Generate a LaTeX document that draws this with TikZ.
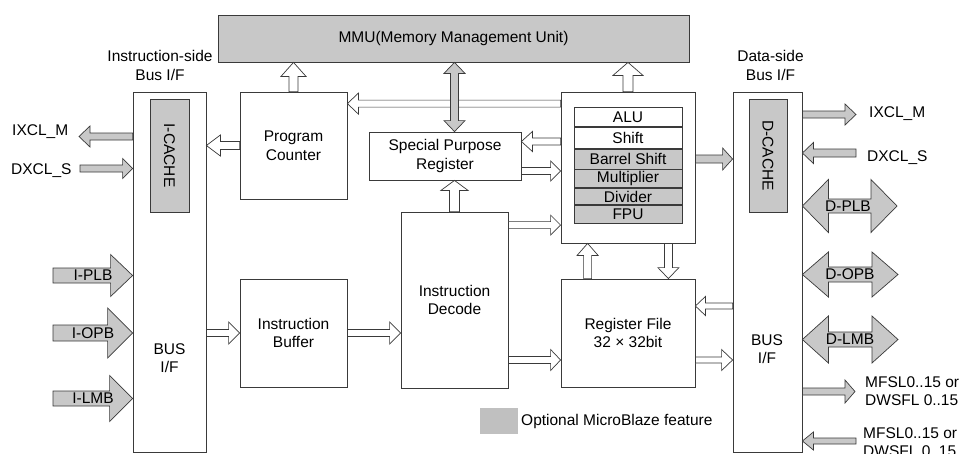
\documentclass[tikz,border=0pt]{standalone}
\usepackage{fontspec}
\setmainfont{Liberation Sans}
\usetikzlibrary{calc}

\definecolor{linec}{RGB}{58,58,58}
\definecolor{optfill}{RGB}{200,200,200}
\definecolor{legfill}{RGB}{192,192,192}

% Block arrow: style, from, to, shaft half width, head half width, head length
\newcommand\fatarrow[6]{%
  \path (#2) coordinate (fa-s) (#3) coordinate (fa-e);
  \path ($(fa-e)!#6!(fa-s)$) coordinate (fa-h);
  \draw[#1] ($(fa-s)!#4!90:(fa-e)$) -- ($(fa-h)!#4!-90:(fa-s)$)
    -- ($(fa-h)!#5!-90:(fa-s)$) -- (fa-e) -- ($(fa-h)!#5!90:(fa-s)$)
    -- ($(fa-h)!#4!90:(fa-s)$) -- ($(fa-s)!#4!-90:(fa-e)$) -- cycle;
}
% Double-headed block arrow, same arguments
\newcommand\fatdarrow[6]{%
  \path (#2) coordinate (fa-s) (#3) coordinate (fa-e);
  \path ($(fa-s)!#6!(fa-e)$) coordinate (fa-a) ($(fa-e)!#6!(fa-s)$) coordinate (fa-b);
  \draw[#1] (fa-s) -- ($(fa-a)!#5!90:(fa-e)$) -- ($(fa-a)!#4!90:(fa-e)$)
    -- ($(fa-b)!#4!-90:(fa-s)$) -- ($(fa-b)!#5!-90:(fa-s)$) -- (fa-e)
    -- ($(fa-b)!#5!90:(fa-s)$) -- ($(fa-b)!#4!90:(fa-s)$)
    -- ($(fa-a)!#4!-90:(fa-e)$) -- ($(fa-a)!#5!-90:(fa-e)$) -- cycle;
}

\begin{document}
\begin{tikzpicture}[x=1pt,y=-1pt,
  every node/.style={font=\fontsize{15.5}{18.5}\selectfont, text=black, inner sep=0pt},
  blk/.style={draw=linec, line width=0.8pt, fill=white, align=center},
  optblk/.style={blk, fill=optfill},
  row/.style={draw=linec, line width=0.8pt, minimum width=108, anchor=north},
  warrow/.style={draw=linec, line width=0.7pt, fill=white},
  garrow/.style={draw=linec, line width=0.7pt, fill=optfill},
  lbl/.style={align=center},
  sig/.style={anchor=west, align=left}]

\clip (0,0) rectangle (962,453);
\fill[white] (0,0) rectangle (962,453);

% ---- memory management unit
\node[optblk, minimum width=471, minimum height=47] (mmu) at (453.5,38.5) {MMU(Memory Management Unit)};

% ---- instruction-side bus interface
\node[lbl] (ititle) at (160,65.5) {Instruction-side\\Bus I/F};
\node[blk, minimum width=73, minimum height=360] (ibus) at (169.5,272) {};
\node[optblk, minimum width=39, minimum height=113] (icache) at (169.5,155.5) {};
\node[rotate=-90] (icachelbl) at (icache) {I-CACHE};
\node[lbl] (ibuslbl) at (169.5,358) {BUS\\I/F};

% ---- pipeline blocks
\node[blk, minimum width=107, minimum height=107] (pc) at (293.5,145.5) {Program\\Counter};
\node[blk, minimum width=107, minimum height=108] (ib) at (293.5,333) {Instruction\\Buffer};
\node[blk, minimum width=152, minimum height=48] (spr) at (445,156) {Special Purpose\\Register};
\node[blk, minimum width=107, minimum height=176] (id) at (454.5,300) {Instruction\\Decode};
\node[blk, minimum width=134, minimum height=151] (exu) at (628,167.5) {};
\node[blk, minimum width=134, minimum height=108] (rf) at (628,333) {Register File\\32 × 32bit};

% ---- execution unit stack
\node[row, fill=white, minimum height=19] (alu) at (628,107) {ALU};
\node[row, fill=white, minimum height=21] (shift) at (alu.south) {Shift};
\node[row, fill=optfill, minimum height=20] (barrel) at (shift.south) {Barrel Shift};
\node[row, fill=optfill, minimum height=18] (mult) at (barrel.south) {Multiplier};
\node[row, fill=optfill, minimum height=16] (div) at (mult.south) {Divider};
\node[row, fill=optfill, minimum height=18] (fpu) at (div.south) {FPU};

% ---- data-side bus interface
\node[lbl] (dtitle) at (770.5,65.5) {Data-side\\Bus I/F};
\node[blk, minimum width=69, minimum height=360] (dbus) at (767.5,272) {};
\node[optblk, minimum width=38, minimum height=113] (dcache) at (768,155.5) {};
\node[rotate=-90] (dcachelbl) at (dcache) {D-CACHE};
\node[lbl] (dbuslbl) at (767,349) {BUS\\I/F};

% ---- legend
\node[fill=legfill, minimum width=38, minimum height=26] (legbox) at (499,421) {};
\node[anchor=west] (legtxt) at (521,421) {Optional MicroBlaze feature};

% ---- internal data paths
\fatarrow{warrow}{pc.north}{pc.north |- mmu.south}{4.5pt}{12.5pt}{14pt}
\fatarrow{warrow}{exu.north}{exu.north |- mmu.south}{5pt}{15pt}{13pt}
\fatarrow{warrow}{[yshift=-12pt]exu.north west}{[yshift=-12pt]pc.north east}{3.5pt}{10.5pt}{11pt}
\fatarrow{warrow}{pc.west}{pc.west -| ibus.east}{4pt}{10.5pt}{14pt}
\fatarrow{warrow}{ib.west -| ibus.east}{ib.west}{3.5pt}{11pt}{11pt}
\fatarrow{warrow}{ib.east}{ib.east -| id.west}{3.5pt}{11pt}{11pt}
\fatarrow{warrow}{id.north}{id.north |- spr.south}{5pt}{13.5pt}{10pt}
\fatarrow{warrow}{[yshift=14.5pt]spr.east -| exu.west}{[yshift=14.5pt]spr.east}{3.5pt}{10pt}{11pt}
\fatarrow{warrow}{[yshift=-15pt]spr.east}{[yshift=-15pt]spr.east -| exu.west}{3.5pt}{10pt}{10pt}
\fatarrow{warrow}{[yshift=-13.5pt]id.north east}{[yshift=-13.5pt]id.north east -| exu.west}{3.5pt}{10pt}{10pt}
\fatarrow{warrow}{[yshift=-27pt]rf.west -| id.east}{[yshift=-27pt]rf.west}{3.5pt}{10.5pt}{10pt}
\fatarrow{warrow}{[xshift=27pt]rf.north west}{[xshift=27pt]rf.north west |- exu.south}{4pt}{10.5pt}{12pt}
\fatarrow{warrow}{[xshift=-27pt]exu.south east}{[xshift=-27pt]exu.south east |- rf.north}{4pt}{10.5pt}{11pt}
\fatarrow{warrow}{[yshift=27pt]rf.east -| dbus.west}{[yshift=27pt]rf.east}{3pt}{9.5pt}{10pt}
\fatarrow{warrow}{[yshift=-27pt]rf.east}{[yshift=-27pt]rf.east -| dbus.west}{3pt}{10.5pt}{11pt}
\fatarrow{garrow}{[yshift=8.5pt]exu.east}{[yshift=8.5pt]exu.east -| dbus.west}{4pt}{11pt}{10pt}
\fatdarrow{garrow}{id.north |- mmu.south}{id.north |- spr.north}{4pt}{10.5pt}{11pt}

% ---- instruction-side external signals
\coordinate (ixclL) at (79,136.5);
\coordinate (dxclL) at (80,168.5);
\coordinate (iplb) at (53,275.5);
\coordinate (iopb) at (53,333);
\coordinate (ilmb) at (53,398.5);
\fatarrow{garrow}{ibus.west |- ixclL}{ixclL}{3.5pt}{10.5pt}{11pt}
\fatarrow{garrow}{dxclL}{ibus.west |- dxclL}{3.5pt}{10pt}{10pt}
\fatarrow{garrow}{iplb}{ibus.west |- iplb}{7.5pt}{21pt}{22pt}
\fatarrow{garrow}{iopb}{ibus.west |- iopb}{8pt}{25pt}{25pt}
\fatarrow{garrow}{ilmb}{ibus.west |- ilmb}{7.5pt}{23pt}{23pt}
\node[sig] (ixclLtxt) at (12,131.5) {IXCL\_M};
\node[sig] (dxclLtxt) at (11,171) {DXCL\_S};
\node (iplbtxt) at (93,275.5) {I-PLB};
\node (iopbtxt) at (93,333) {I-OPB};
\node (ilmbtxt) at (93,398.5) {I-LMB};

% ---- data-side external signals
\coordinate (ixclR) at (856,114.5);
\coordinate (dxclR) at (856,153);
\coordinate (dplb) at (897,206);
\coordinate (dopb) at (898,274.5);
\coordinate (dlmb) at (898,339.5);
\coordinate (fslout) at (855,391.5);
\coordinate (fslin) at (856,441);
\fatarrow{garrow}{dbus.east |- ixclR}{ixclR}{3.5pt}{10.5pt}{11pt}
\fatarrow{garrow}{dxclR}{dbus.east |- dxclR}{4pt}{10.5pt}{11pt}
\fatdarrow{garrow}{dbus.east |- dplb}{dplb}{7pt}{26.5pt}{26pt}
\fatdarrow{garrow}{dbus.east |- dopb}{dopb}{7.5pt}{22.5pt}{26pt}
\fatdarrow{garrow}{dbus.east |- dlmb}{dlmb}{7.5pt}{23.5pt}{26pt}
\fatarrow{garrow}{dbus.east |- fslout}{fslout}{3.5pt}{11.5pt}{10pt}
\fatarrow{garrow}{fslin}{dbus.east |- fslin}{3pt}{9pt}{11pt}
\node[sig] (ixclRtxt) at (869,114) {IXCL\_M};
\node[sig] (dxclRtxt) at (867,157.5) {DXCL\_S};
\node (dplbtxt) at (848,206) {D-PLB};
\node (dopbtxt) at (850,274.5) {D-OPB};
\node (dlmbtxt) at (850,339.5) {D-LMB};
\node[sig] (fslouttxt) at (865,391) {MFSL0..15 or\\DWSFL 0..15};
\node[sig] (fslintxt) at (863,442) {MFSL0..15 or\\DWSFL 0..15};

\end{tikzpicture}
\end{document}
